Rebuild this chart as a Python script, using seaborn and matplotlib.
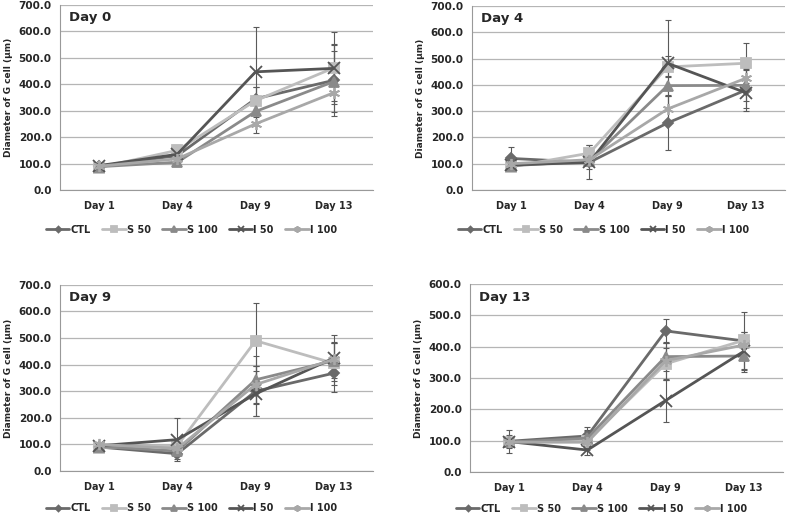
import numpy as np
import pandas as pd
import matplotlib
matplotlib.use("Agg")
import matplotlib.pyplot as plt
import seaborn as sns

# 데이터
days = ["Day 1", "Day 4", "Day 9", "Day 13"]
groups = ["CTL", "S 50", "S 100", "I 50", "I 100"]
panel_titles = ["Day 0", "Day 4", "Day 9", "Day 13"]

# 평균값 (패널별)
day0_mean = {"CTL": [90, 130, 345, 415], "S 50": [85, 150, 338, 462], "S 100": [88, 105, 297, 410],
             "I 50": [92, 135, 447, 460], "I 100": [90, 118, 250, 368]}
day4_mean = {"CTL": [120, 105, 255, 380], "S 50": [88, 140, 468, 482], "S 100": [92, 110, 397, 398],
             "I 50": [95, 105, 482, 370], "I 100": [100, 115, 308, 425]}
day9_mean = {"CTL": [90, 65, 300, 368], "S 50": [88, 95, 490, 405], "S 100": [92, 75, 343, 415],
             "I 50": [95, 118, 290, 425], "I 100": [100, 85, 325, 420]}
day13_mean = {"CTL": [98, 115, 450, 418], "S 50": [95, 100, 345, 420], "S 100": [95, 108, 368, 370],
              "I 50": [97, 70, 228, 385], "I 100": [95, 95, 355, 405]}

# 표준편차 (오차막대)
day0_sd = {"CTL": [10, 15, 45, 137], "S 50": [8, 22, 50, 135], "S 100": [8, 12, 40, 115],
           "I 50": [10, 30, 170, 90], "I 100": [10, 15, 35, 30]}
day4_sd = {"CTL": [42, 65, 103, 80], "S 50": [10, 30, 40, 76], "S 100": [10, 20, 35, 60],
           "I 50": [10, 25, 165, 60], "I 100": [10, 20, 50, 40]}
day9_sd = {"CTL": [12, 20, 95, 70], "S 50": [10, 25, 143, 80], "S 100": [10, 20, 90, 65],
           "I 50": [10, 80, 85, 85], "I 100": [10, 15, 70, 60]}
day13_sd = {"CTL": [37, 27, 38, 20], "S 50": [15, 30, 50, 90], "S 100": [15, 25, 45, 50],
            "I 50": [20, 15, 70, 60], "I 100": [15, 20, 60, 40]}

means = [day0_mean, day4_mean, day9_mean, day13_mean]
sds = [day0_sd, day4_sd, day9_sd, day13_sd]
ymaxs = [700, 700, 700, 600]

colors = {"CTL": "#6a6a6a", "S 50": "#bdbdbd", "S 100": "#8a8a8a", "I 50": "#555555", "I 100": "#a8a8a8"}
markers = {"CTL": "D", "S 50": "s", "S 100": "^", "I 50": "x", "I 100": (6, 2, 0)}
msizes = {"CTL": 5, "S 50": 7, "S 100": 7, "I 50": 8, "I 100": 8}

sns.set_style("white")
plt.rcParams["font.family"] = ["DejaVu Sans"]

fig = plt.figure(figsize=(7.87, 5.14), dpi=100)
# 축 위치 [left, bottom, width, height]
positions = [
    [0.0762, 0.6304, 0.3977, 0.360],
    [0.5997, 0.6304, 0.3977, 0.358],
    [0.0762, 0.0837, 0.3977, 0.362],
    [0.5972, 0.0817, 0.3977, 0.366],
]
legend_y = [-0.215, -0.215, -0.2, -0.195]

for k in range(4):
    ax = fig.add_axes(positions[k])
    rows = []
    for g in groups:
        for i, d in enumerate(days):
            rows.append({"day": d, "x": i, "group": g, "value": means[k][g][i], "sd": sds[k][g][i]})
    df = pd.DataFrame(rows)

    for g in groups:
        sub = df[df["group"] == g]
        # 오차막대
        ax.errorbar(sub["x"], sub["value"], yerr=sub["sd"], fmt="none",
                    ecolor="#5a5a5a", elinewidth=0.8, capsize=2.5, capthick=0.8, zorder=2)
        sns.lineplot(data=sub, x="x", y="value", color=colors[g], marker=markers[g],
                     markersize=msizes[g], markeredgecolor=colors[g], markeredgewidth=1.3,
                     linewidth=2, label=g, ax=ax, zorder=3)

    ax.set_xlim(-0.5, 3.5)
    ax.set_ylim(0, ymaxs[k])
    ax.set_yticks(np.arange(0, ymaxs[k] + 1, 100))
    ax.set_yticklabels([f"{v:.1f}" for v in np.arange(0, ymaxs[k] + 1, 100)],
                       fontsize=7.5, fontweight="bold")
    ax.set_xticks(range(4))
    ax.set_xticklabels(days, fontsize=7, fontweight="bold")
    ax.set_xticks(np.arange(-0.5, 3.6, 1), minor=True)
    ax.tick_params(axis="x", which="major", length=0, pad=8)
    ax.tick_params(axis="x", which="minor", length=4, color="#999999", direction="out")
    ax.tick_params(axis="y", length=4, color="#999999", direction="out", pad=2)
    ax.yaxis.grid(True, color="#b5b5b5", linewidth=0.9)
    ax.xaxis.grid(False)
    for s in ["top", "right"]:
        ax.spines[s].set_visible(False)
    ax.spines["left"].set_color("#999999")
    ax.spines["bottom"].set_color("#999999")
    ax.set_xlabel("")
    ax.set_ylabel("Diameter of G cell (μm)", fontsize=6.5, fontweight="bold", labelpad=4)
    ax.text(0.03, 0.93, panel_titles[k], transform=ax.transAxes, fontsize=9.5,
            fontweight="bold", va="center", ha="left")

    ax.legend(loc="center", bbox_to_anchor=(0.42, legend_y[k]), ncol=5, frameon=False,
              handlelength=2.4, handletextpad=0.1, columnspacing=1.2, markerscale=0.6,
              borderaxespad=0, borderpad=0,
              prop={"weight": "bold", "size": 7})

fig.savefig("out.png", dpi=100)
